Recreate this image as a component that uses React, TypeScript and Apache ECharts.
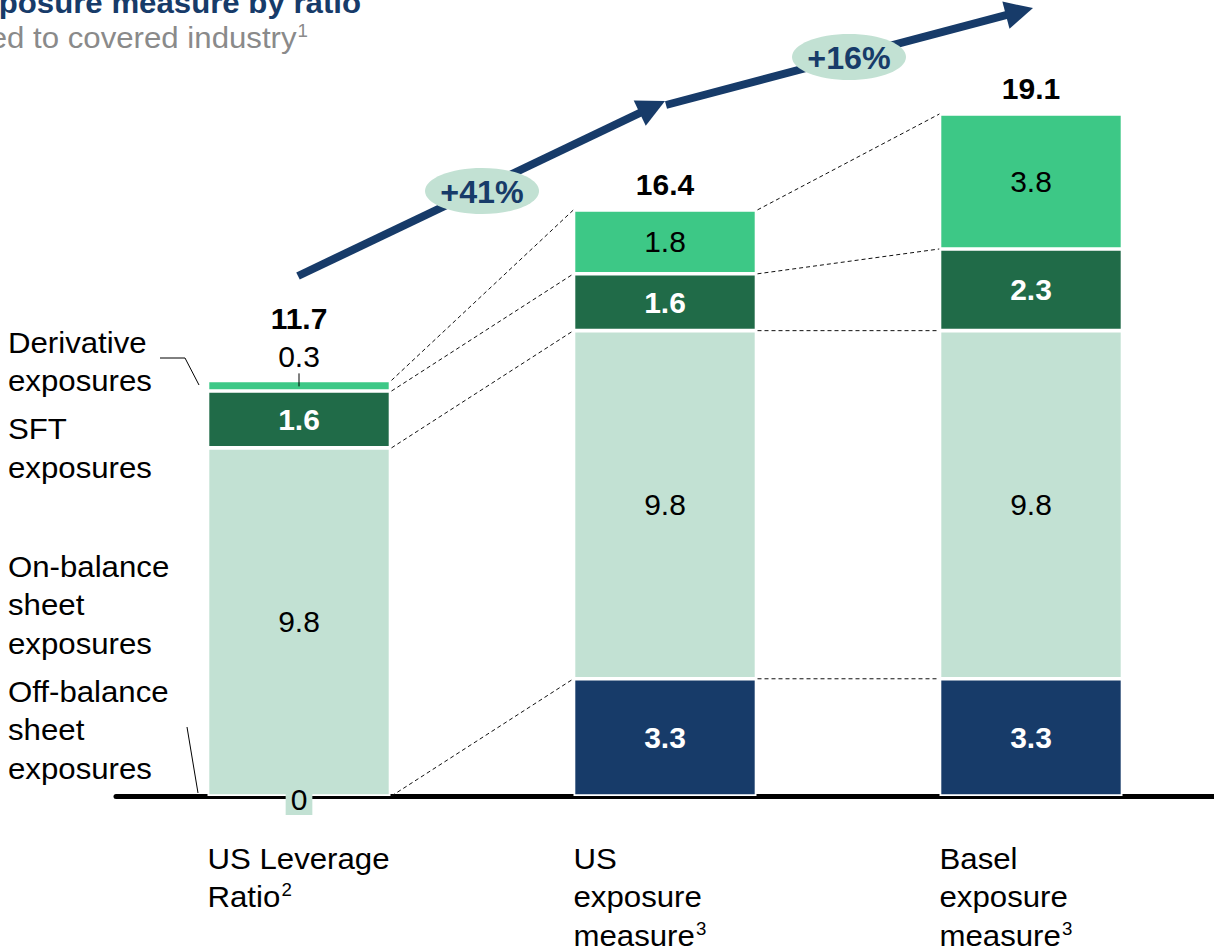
import React, { useEffect, useRef } from 'react';
import * as echarts from 'echarts';

// ---------- data ----------
const categories = ['US Leverage\nRatio', 'US\nexposure\nmeasure', 'Basel\nexposure\nmeasure'];
const categoryNotes = ['2', '3', '3'];
const seriesNames = [
  'Off-balance\nsheet\nexposures',
  'On-balance\nsheet\nexposures',
  'SFT\nexposures',
  'Derivative\nexposures',
];
const offBalance = [0, 3.3, 3.3];
const onBalance = [9.8, 9.8, 9.8];
const sft = [1.6, 1.6, 2.3];
const derivative = [0.3, 1.8, 3.8];
const totals = [11.7, 16.4, 19.1];
const growthLabels = ['+41%', '+16%'];
const titleText = 'Leverage exposure measure by ratio';
const subtitleText = 'Compared to covered industry';
const subtitleNote = '1';

// ---------- styles ----------
const FONT = '"Liberation Sans", Arial, Helvetica, sans-serif';
const NAVY = '#173b69';
const DARK_GREEN = '#206b48';
const GREEN = '#3dc886';
const LIGHT_GREEN = '#c2e1d3';
const WIDEN = 1.04;

export default function App() {
  const ref = useRef<HTMLDivElement>(null);

  useEffect(() => {
    const el = ref.current!;
    const chart = echarts.init(el, undefined, { renderer: 'svg' });
    const barWidth = 183;

    const segLabel = (color: string, bold: boolean) => ({
      show: true,
      position: 'inside',
      color,
      fontSize: 30,
      fontFamily: FONT,
      fontWeight: bold ? 'bold' : 'normal',
    });
    const itemStyle = (color: string) => ({ color, borderColor: '#ffffff', borderWidth: 1.8 });

    const option: any = {
      animation: false,
      grid: { left: 116, top: 14.5, width: 1102, bottom: 155 },
      xAxis: {
        type: 'category',
        data: categories,
        axisLine: { show: true, lineStyle: { color: '#000', width: 5 } },
        axisTick: { show: false },
        axisLabel: { show: false },
        splitLine: { show: false },
      },
      yAxis: { type: 'value', min: 0, max: 22, show: false },
      series: [
        {
          name: seriesNames[0],
          type: 'bar',
          stack: 'total',
          barWidth,
          data: offBalance.map((v) =>
            v === 0
              ? {
                  value: v,
                  itemStyle: { borderWidth: 0 },
                  label: {
                    color: '#000',
                    fontWeight: 'normal',
                    backgroundColor: LIGHT_GREEN,
                    padding: [2, 5, 0, 5],
                    offset: [0, 3],
                  },
                }
              : v
          ),
          itemStyle: itemStyle(NAVY),
          label: segLabel('#ffffff', true),
          z: 3,
        },
        {
          name: seriesNames[1],
          type: 'bar',
          stack: 'total',
          barWidth,
          data: onBalance,
          itemStyle: itemStyle(LIGHT_GREEN),
          label: segLabel('#000000', false),
          z: 2,
        },
        {
          name: seriesNames[2],
          type: 'bar',
          stack: 'total',
          barWidth,
          data: sft,
          itemStyle: itemStyle(DARK_GREEN),
          label: segLabel('#ffffff', true),
          z: 2,
        },
        {
          name: seriesNames[3],
          type: 'bar',
          stack: 'total',
          barWidth,
          data: derivative.map((v, i) =>
            i === 0 ? { value: v, label: { position: 'top', distance: 9 } } : v
          ),
          itemStyle: itemStyle(GREEN),
          label: segLabel('#000000', false),
          z: 2,
        },
      ],
    };
    chart.setOption(option);

    const px = (i: number, v: number) =>
      chart.convertToPixel({ xAxisIndex: 0, yAxisIndex: 0 }, [i, v]) as number[];

    const stacks = [offBalance, onBalance, sft, derivative];
    const cum = categories.map((_, i) => {
      const out = [0];
      let s = 0;
      stacks.forEach((arr) => {
        s += arr[i];
        out.push(Math.round(s * 100) / 100);
      });
      return out;
    });

    const elements: any[] = [];

    // dashed connectors between bars
    for (let i = 0; i < categories.length - 1; i++) {
      for (let k = 1; k < cum[i].length; k++) {
        const a = px(i, cum[i][k]);
        const b = px(i + 1, cum[i + 1][k]);
        elements.push({
          type: 'line',
          z: 1,
          shape: { x1: a[0] + barWidth / 2 + 1, y1: a[1], x2: b[0] - barWidth / 2, y2: b[1] },
          style: { stroke: '#111', lineWidth: 1, lineDash: [4, 3] },
        });
      }
    }

    // totals above the bars
    totals.forEach((t, i) => {
      const p = px(i, t);
      const lift = derivative[i] < 1 ? 62 : 29;
      elements.push({
        type: 'text',
        z: 10,
        x: p[0],
        y: p[1] - lift,
        style: {
          text: t.toFixed(1),
          fontSize: 30,
          fontWeight: 'bold',
          fontFamily: FONT,
          fill: '#000',
          align: 'center',
          verticalAlign: 'middle',
        },
      });
    });

    // small tick for 0.3 label
    const top0 = px(0, cum[0][4]);
    elements.push({
      type: 'line',
      z: 10,
      shape: { x1: top0[0], y1: top0[1] - 7, x2: top0[0], y2: top0[1] + 6 },
      style: { stroke: '#000', lineWidth: 1 },
    });

    // category labels
    categories.forEach((c, i) => {
      const p = px(i, 0);
      const lines = c.split('\n');
      const text = lines
        .map((l, j) => (j === lines.length - 1 ? `{n|${l}}{s|${categoryNotes[i]}}` : `{n|${l}}`))
        .join('\n');
      elements.push({
        type: 'text',
        z: 10,
        x: p[0] - barWidth / 2,
        y: 838.5,
        scaleX: WIDEN,
        style: {
          text,
          align: 'left',
          verticalAlign: 'top',
          rich: {
            n: { fontSize: 30, fontFamily: FONT, fill: '#000', lineHeight: 38.5 },
            s: { fontSize: 18, fontFamily: FONT, fill: '#000', lineHeight: 38.5, verticalAlign: 'top', padding: [4, 0, 0, 1] },
          },
        },
      });
    });

    // left legend labels
    const legendCenters = [729.5, 604.5, 447.5, 361];
    seriesNames.forEach((n, i) => {
      elements.push({
        type: 'text',
        z: 10,
        x: 8,
        y: legendCenters[i],
        scaleX: WIDEN,
        style: {
          text: n,
          fontSize: 30,
          fontFamily: FONT,
          fill: '#000',
          lineHeight: 38.5,
          align: 'left',
          verticalAlign: 'middle',
        },
      });
    });
    elements.push({
      type: 'polyline',
      z: 10,
      shape: { points: [[160, 358], [185, 358], [199, 385]] },
      style: { stroke: '#000', lineWidth: 1, fill: null },
    });
    elements.push({
      type: 'line',
      z: 10,
      shape: { x1: 187, y1: 727, x2: 198, y2: 793 },
      style: { stroke: '#000', lineWidth: 1 },
    });

    // title + subtitle
    elements.push({
      type: 'text',
      z: 10,
      x: 361,
      y: 2,
      scaleX: WIDEN,
      style: {
        text: titleText,
        fontSize: 30,
        fontWeight: 'bold',
        fontFamily: FONT,
        fill: NAVY,
        align: 'right',
        verticalAlign: 'middle',
      },
    });
    elements.push({
      type: 'text',
      z: 10,
      x: 308,
      y: 37.5,
      scaleX: WIDEN,
      style: {
        text: `{a|${subtitleText}}{s|${subtitleNote}}`,
        align: 'right',
        verticalAlign: 'middle',
        rich: {
          a: { fontSize: 30, fontFamily: FONT, fill: '#8a8a8a', lineHeight: 34 },
          s: { fontSize: 18, fontFamily: FONT, fill: '#8a8a8a', lineHeight: 34, verticalAlign: 'top', padding: [1, 0, 0, 1] },
        },
      },
    });

    // growth arrows
    const arrow = (x1: number, y1: number, x2: number, y2: number) => {
      const dx = x2 - x1;
      const dy = y2 - y1;
      const len = Math.sqrt(dx * dx + dy * dy);
      const ux = dx / len;
      const uy = dy / len;
      const nx = -uy;
      const ny = ux;
      const headLen = 28;
      const headHalf = 14;
      const bx = x2 - ux * headLen;
      const by = y2 - uy * headLen;
      elements.push({
        type: 'line',
        z: 6,
        shape: { x1, y1, x2: bx + ux * 2, y2: by + uy * 2 },
        style: { stroke: NAVY, lineWidth: 8 },
      });
      elements.push({
        type: 'polygon',
        z: 6,
        shape: {
          points: [
            [x2, y2],
            [bx + nx * headHalf, by + ny * headHalf],
            [bx - nx * headHalf, by - ny * headHalf],
          ],
        },
        style: { fill: NAVY },
      });
    };
    arrow(298, 276, 665, 101);
    arrow(666, 105, 1033, 8);

    const bubbles = [
      { cx: 482, cy: 191 },
      { cx: 849, cy: 57 },
    ];
    bubbles.forEach((b, i) => {
      elements.push({
        type: 'ellipse',
        z: 7,
        shape: { cx: b.cx, cy: b.cy, rx: 57, ry: 23 },
        style: { fill: LIGHT_GREEN },
      });
      elements.push({
        type: 'text',
        z: 8,
        x: b.cx,
        y: b.cy + 1,
        scaleX: WIDEN,
        style: {
          text: growthLabels[i],
          fontSize: 31,
          fontWeight: 'bold',
          fontFamily: FONT,
          fill: NAVY,
          align: 'center',
          verticalAlign: 'middle',
        },
      });
    });

    chart.setOption({ graphic: { elements } });

    return () => {
      chart.dispose();
    };
  }, []);

  return (
    <div
      ref={ref}
      style={{ position: 'absolute', left: 0, top: 0, width: 1214, height: 951, background: '#fff' }}
    />
  );
}
